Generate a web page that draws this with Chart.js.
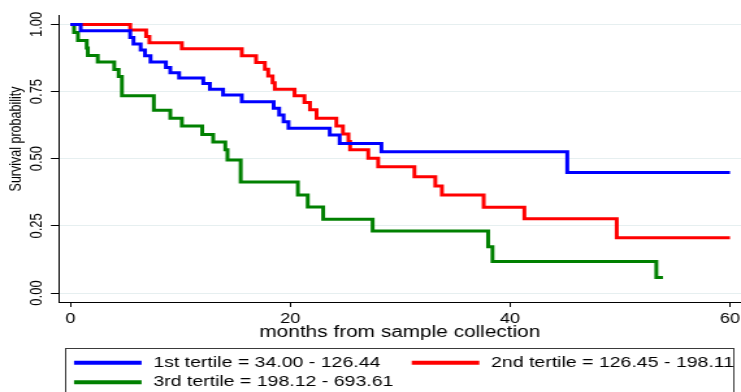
<!DOCTYPE html>
<html><head><meta charset="utf-8">
<script src="https://cdn.jsdelivr.net/npm/chart.js@4/dist/chart.umd.min.js"></script>
<style>
html,body{margin:0;padding:0;background:#fff;overflow:hidden}
</style>
</head><body>
<canvas id="c" width="570" height="392" style="display:block;width:741px;height:392px"></canvas>
<script>
// ---- data ----
const seriesLabels = ['1st tertile = 34.00 - 126.44', '2nd tertile = 126.45 - 198.11', '3rd tertile = 198.12 - 693.61'];
const seriesColors = ['#0000ff', '#ff0000', '#008000'];

const t1Months = [0, 0.95, 5.45, 5.75, 6.4, 6.8, 7.3, 8.7, 9.1, 9.9, 12.1, 12.7, 13.9, 15.6, 18.5, 19.0, 19.4, 19.85, 23.6, 24.5, 28.3, 45.2, 60];
const t1Surv   = [1, 0.976, 0.951, 0.927, 0.905, 0.883, 0.86, 0.84, 0.82, 0.80, 0.78, 0.759, 0.737, 0.712, 0.688, 0.663, 0.638, 0.613, 0.588, 0.557, 0.526, 0.449, 0.449];

const t2Months = [0, 5.45, 6.9, 7.2, 10.15, 15.6, 16.9, 17.7, 18.0, 18.4, 18.6, 20.4, 21.3, 21.8, 22.4, 24.2, 24.8, 25.3, 25.45, 27.1, 28.0, 31.3, 33.2, 33.8, 37.6, 41.3, 49.7, 60];
const t2Surv   = [1, 0.979, 0.955, 0.932, 0.909, 0.883, 0.858, 0.833, 0.808, 0.783, 0.759, 0.734, 0.709, 0.682, 0.651, 0.622, 0.592, 0.564, 0.533, 0.502, 0.47, 0.433, 0.398, 0.365, 0.319, 0.276, 0.206, 0.206];

const t3Months = [0, 0.35, 0.7, 1.5, 1.6, 2.5, 4.0, 4.4, 4.7, 7.6, 9.1, 10.15, 12.0, 13.0, 14.1, 14.3, 15.5, 20.7, 21.6, 23.0, 27.5, 38.0, 38.4, 53.3, 53.9];
const t3Surv   = [1, 0.97, 0.94, 0.912, 0.884, 0.86, 0.832, 0.806, 0.734, 0.68, 0.651, 0.622, 0.59, 0.562, 0.533, 0.495, 0.413, 0.365, 0.32, 0.275, 0.231, 0.172, 0.117, 0.058, 0.058];

const xTickValues = [0, 20, 40, 60];
const xTickLabels = ['0', '20', '40', '60'];
const yTickValues = [0, 0.25, 0.5, 0.75, 1];
const yTickLabels = ['0.00', '0.25', '0.50', '0.75', '1.00'];
const xTitle = 'months from sample collection';
const yTitle = 'Survival probability';

// ---- rendering ----
const FONT = "'Liberation Sans', Arial, Helvetica, sans-serif";
const pts = (ts, ss) => ts.map((t, i) => ({x: t, y: ss[i]}));
const series = [[t1Months, t1Surv], [t2Months, t2Surv], [t3Months, t3Surv]];

const overlay = {
  id: 'overlay',
  afterDraw(chart) {
    const ctx = chart.ctx;
    // y axis title
    ctx.save();
    ctx.fillStyle = '#000';
    ctx.font = '12.5px ' + FONT;
    ctx.textAlign = 'center';
    ctx.textBaseline = 'middle';
    ctx.translate(12.8, 139);
    ctx.rotate(-Math.PI / 2);
    ctx.fillText(yTitle, 0, 0);
    ctx.restore();
    // legend
    ctx.save();
    ctx.strokeStyle = '#3a3a3a';
    ctx.lineWidth = 1;
    ctx.strokeRect(50.5, 348.5, 514, 60);
    const slots = [[56.9, 362.7], [316.7, 362.7], [56.9, 382.3]];
    chart.data.datasets.forEach((ds, i) => {
      const [lx, ly] = slots[i];
      ctx.strokeStyle = ds.borderColor;
      ctx.lineWidth = 4;
      ctx.beginPath();
      ctx.moveTo(lx, ly);
      ctx.lineTo(lx + 52, ly);
      ctx.stroke();
      ctx.fillStyle = '#000';
      ctx.font = '15px ' + FONT;
      ctx.textAlign = 'left';
      ctx.textBaseline = 'middle';
      ctx.fillText(ds.label, lx + 61, ly);
    });
    ctx.restore();
  }
};

new Chart(document.getElementById('c'), {
  type: 'line',
  data: {
    datasets: series.map((s, i) => ({
      label: seriesLabels[i],
      data: pts(s[0], s[1]),
      borderColor: seriesColors[i],
      backgroundColor: seriesColors[i],
      borderWidth: 3,
      stepped: true,
      pointRadius: 0,
      fill: false
    }))
  },
  options: {
    responsive: false,
    animation: false,
    devicePixelRatio: 1,
    layout: {autoPadding: false, padding: {left: 0, right: 0, top: 15, bottom: 50}},
    plugins: {legend: {display: false}, tooltip: {enabled: false}},
    scales: {
      x: {
        type: 'linear', min: -1.05, max: 61,
        afterBuildTicks: s => { s.ticks = xTickValues.map(v => ({value: v})); },
        afterFit: s => { s.height = 40; s.paddingLeft = 0; s.paddingRight = 0; },
        ticks: {callback: (v, i) => xTickLabels[i], font: {size: 14, family: FONT}, color: '#000', padding: 4, maxRotation: 0, autoSkip: false},
        grid: {drawOnChartArea: false, tickLength: 5, tickColor: '#000', tickWidth: 1},
        border: {display: true, color: '#000', width: 1},
        title: {display: true, text: xTitle, font: {size: 16, family: FONT}, color: '#000', padding: {top: 0, bottom: 0}}
      },
      y: {
        type: 'linear', min: -0.0335, max: 1.035,
        afterBuildTicks: s => { s.ticks = yTickValues.map(v => ({value: v})); },
        afterFit: s => { s.width = 45.15; s.paddingTop = 0; s.paddingBottom = 0; },
        ticks: {callback: (v, i) => yTickLabels[i], font: {size: 13, family: FONT}, color: '#000', padding: -2, minRotation: 90, maxRotation: 90, crossAlign: 'center', autoSkip: false},
        grid: {color: '#e6eff0', lineWidth: 1, tickLength: 6, tickColor: '#000', tickWidth: 1},
        border: {display: true, color: '#000', width: 1}
      }
    }
  },
  plugins: [overlay]
});
</script>
</body></html>
